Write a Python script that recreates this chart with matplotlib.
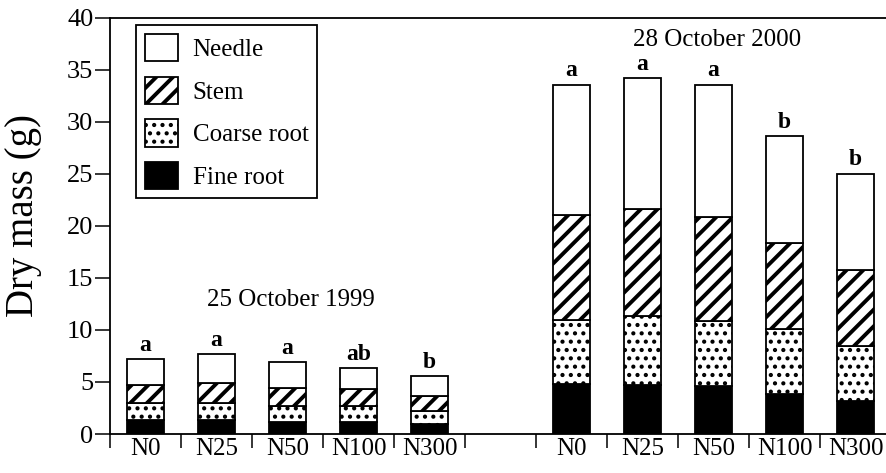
import numpy as np
import matplotlib
matplotlib.use("Agg")
import matplotlib.pyplot as plt
from matplotlib.patches import Patch

plt.rcParams["font.family"] = ["Liberation Serif", "DejaVu Serif"]

# ── Data ──────────────────────────────────────────────────────────────────────
treatments = ["N0", "N25", "N50", "N100", "N300"]
dates = ["25 October 1999", "28 October 2000"]

# layer heights
fine_1999   = [1.30, 1.30, 1.20, 1.20, 0.98]
coarse_1999 = [1.66, 1.70, 1.54, 1.45, 1.19]
stem_1999   = [1.78, 1.89, 1.67, 1.70, 1.47]
needle_1999 = [2.50, 2.83, 2.50, 2.02, 1.89]
sig_1999    = ["a", "a", "a", "ab", "b"]

fine_2000   = [4.83, 4.73, 4.57, 3.87, 3.20]
coarse_2000 = [6.09, 6.57, 6.29, 6.25, 5.25]
stem_2000   = [10.18, 10.30, 10.04, 8.24, 7.29]
needle_2000 = [12.50, 12.65, 12.70, 10.30, 9.30]
sig_2000    = ["a", "a", "a", "b", "b"]

layers = ["Fine root", "Coarse root", "Stem", "Needle"]
styles = {
    "Fine root":   dict(facecolor="black", hatch=None, hlw=1.0),
    "Coarse root": dict(facecolor="white", hatch="..", hlw=1.8),
    "Stem":        dict(facecolor="white", hatch="//", hlw=2.8),
    "Needle":      dict(facecolor="white", hatch=None, hlw=1.0),
}

# ── Figure ────────────────────────────────────────────────────────────────────
fig = plt.figure(figsize=(8.86, 4.73), dpi=100)
ax = fig.add_axes([110 / 886, (473 - 434) / 473, 776 / 886, 416 / 473])

x1 = np.arange(5) + 0.5
x2 = np.arange(5) + 6.5
width = 0.51


def stack(ax, x, vals):
    bottom = np.zeros(len(x))
    for name, v in zip(layers, vals):
        st = styles[name]
        kw = dict(bottom=bottom, width=width, facecolor=st["facecolor"],
                  edgecolor="black", linewidth=1.3)
        if st["hatch"]:
            kw["hatch"] = st["hatch"]
            kw["hatch_linewidth"] = st["hlw"]
        ax.bar(x, v, **kw)
        bottom = bottom + np.array(v)
    return bottom


top1 = stack(ax, x1, [fine_1999, coarse_1999, stem_1999, needle_1999])
top2 = stack(ax, x2, [fine_2000, coarse_2000, stem_2000, needle_2000])

for x, t, s in zip(np.concatenate([x1, x2]), np.concatenate([top1, top2]),
                   sig_1999 + sig_2000):
    ax.text(x, t + 0.3, s, ha="center", va="bottom", fontsize=17,
            fontweight="bold")

ax.text(2.55, 12.85, dates[0], ha="center", va="center", fontsize=18)
ax.text(8.55, 37.9, dates[1], ha="center", va="center", fontsize=18)

# ── Axes ──────────────────────────────────────────────────────────────────────
ax.set_xlim(0, 776 / 71)
ax.set_ylim(0, 40)
ax.set_yticks(np.arange(0, 41, 5))
ax.tick_params(axis="y", direction="out", length=11, width=1.1,
               labelsize=19, pad=1)

ax.set_xticks(np.arange(0, 11))
ax.set_xticklabels([])
ax.set_xticks(np.concatenate([x1, x2]), minor=True)
ax.set_xticklabels(treatments + treatments, minor=True)
ax.tick_params(axis="x", which="major", direction="out", length=10, width=1.1)
ax.tick_params(axis="x", which="minor", length=0, labelsize=18, pad=3)

for side in ["left", "bottom", "top"]:
    ax.spines[side].set_linewidth(1.3)
ax.spines["right"].set_visible(False)

ax.set_ylabel("Dry mass (g)", fontsize=28)
ax.yaxis.set_label_coords(-0.087, 0.526)

names = ["Needle", "Stem", "Coarse root", "Fine root"]
handles = [Patch(facecolor=styles[n]["facecolor"], edgecolor="black",
                 hatch=styles[n]["hatch"], linewidth=1.3) for n in names]
leg = ax.legend(handles, names,
                loc="upper left", bbox_to_anchor=(0.034, 0.983),
                borderaxespad=0, fontsize=18, handlelength=1.3,
                handleheight=1.3, labelspacing=0.62, handletextpad=0.6,
                borderpad=0.35, fancybox=False, framealpha=1)
leg.get_frame().set_edgecolor("black")
leg.get_frame().set_linewidth(1.3)
for p, n in zip(leg.get_patches(), names):
    p.set_hatch_linewidth(styles[n]["hlw"])

fig.savefig("out.png", dpi=100)
